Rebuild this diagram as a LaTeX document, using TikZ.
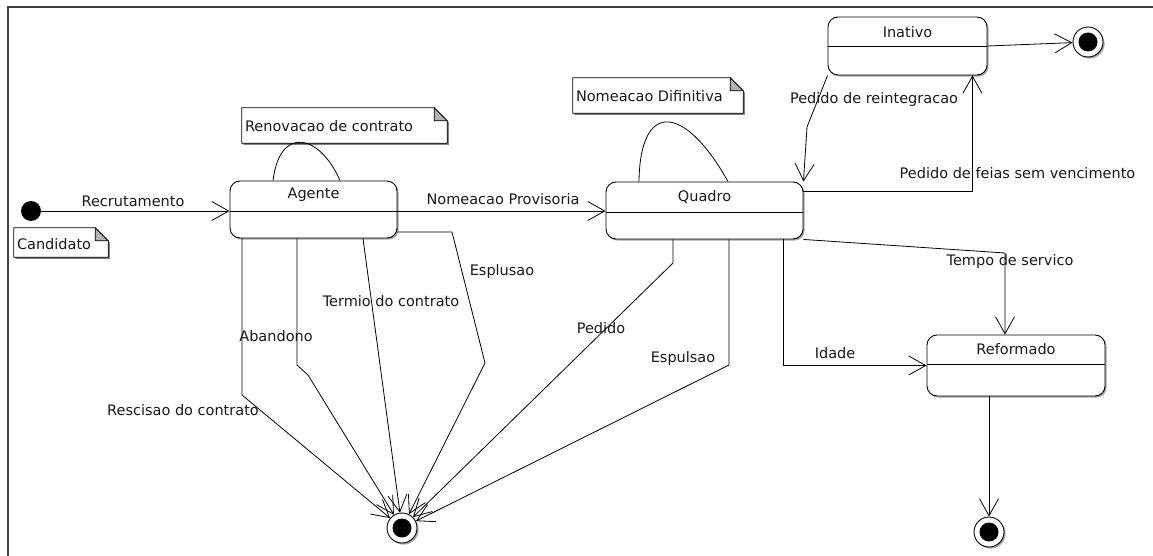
\documentclass[tikz,border=0pt]{standalone}
\usepackage{fontspec}
\setmainfont{DejaVu Sans}
\usetikzlibrary{arrows.meta,shadows,calc}
\begin{document}
\begin{tikzpicture}[x=1pt,y=-1pt,
  every node/.style={font=\fontsize{14.5}{17}\selectfont, text=black!90},
  shd/.style={drop shadow={shadow xshift=1.6pt, shadow yshift=-1.6pt, fill=black!50, opacity=0.7}},
  statebox/.style={draw, rounded corners=10pt, fill=white, inner sep=0pt, line width=0.9pt, shd},
  finalst/.style={circle, draw, fill=white, minimum size=30pt, inner sep=0pt, line width=0.9pt, shd,
    path picture={\fill[black] (path picture bounding box.center) circle (9.5pt);}},
  initst/.style={circle, fill=black, minimum size=20pt, inner sep=0pt},
  notebox/.style={inner sep=0pt},
  tr/.style={line width=0.8pt, -{Straight Barb[length=17pt,width=19pt,line width=0.8pt]}},
  ln/.style={line width=0.8pt},
  lbl/.style={inner sep=0pt}
]
\useasboundingbox (0,0) rectangle (1153,556);
\fill[white] (0,0) rectangle (1153,556);
% frame
\draw[line width=1.4pt, black!75] (8,556) -- (8,7) -- (1153,7);

% notes
\node[notebox, minimum width=94pt, minimum height=29pt] (nCand) at (61,242.5) {};
\node[notebox, minimum width=205pt, minimum height=35pt] (nRen) at (344.5,125.5) {};
\node[notebox, minimum width=170pt, minimum height=35pt] (nNom) at (658,95.5) {};
\foreach \n in {nCand,nRen,nNom}{
  \fill[black!50] ([xshift=1.6pt,yshift=-1.6pt]\n.south west) -- ([xshift=1.6pt,yshift=-1.6pt]\n.north west) -- ([xshift=-11.4pt,yshift=-1.6pt]\n.north east) -- ([xshift=1.6pt,yshift=-14.6pt]\n.north east) -- ([xshift=1.6pt,yshift=-1.6pt]\n.south east) -- cycle;
  \draw[fill=white, line width=0.8pt] (\n.south west) -- (\n.north west) -- ([xshift=-13pt]\n.north east) -- ([yshift=-13pt]\n.north east) -- (\n.south east) -- cycle;
  \draw[fill=black!30, line width=0.8pt] ([xshift=-13pt]\n.north east) -- ([xshift=-13pt,yshift=-13pt]\n.north east) -- ([yshift=-13pt]\n.north east) -- cycle;
}
\node[lbl, anchor=west] (tCand) at ([xshift=3pt,yshift=-2pt]nCand.west) {Candidato};
\node[lbl, anchor=west] (tRen) at ([xshift=3pt,yshift=-1pt]nRen.west) {Renovacao de contrato};
\node[lbl, anchor=west] (tNom) at ([xshift=3pt,yshift=-1pt]nNom.west) {Nomeacao Difinitiva};

% states
\node[statebox, minimum width=167pt, minimum height=57pt] (agente) at (313.5,209.5) {};
\node[statebox, minimum width=197pt, minimum height=57pt] (quadro) at (704.5,210.5) {};
\node[statebox, minimum width=159pt, minimum height=58pt] (inativo) at (907.5,46) {};
\node[statebox, minimum width=178pt, minimum height=61pt] (reformado) at (1016,365.5) {};
\draw[ln] (agente.west |- 0,211) -- (agente.east |- 0,211);
\draw[ln] (quadro.west |- 0,212) -- (quadro.east |- 0,212);
\draw[ln] (inativo.west |- 0,46) -- (inativo.east |- 0,46);
\draw[ln] (reformado.west |- 0,364) -- (reformado.east |- 0,364);
\node[lbl] (tAgente) at (313.5,195) {Agente};
\node[lbl] (tQuadro) at (704.5,197) {Quadro};
\node[lbl] (tInativo) at (907.5,32) {Inativo};
\node[lbl] (tReformado) at (1016,349) {Reformado};

% pseudo states
\node[initst] (init) at (31,211) {};
\node[finalst] (f1) at (1088,42) {};
\node[finalst] (f2) at (402,528) {};
\node[finalst] (f3) at (989,532) {};

% self loops
\draw[ln] ([xshift=-40.5pt]agente.north) .. controls +(7,-56) and +(-20,-46) .. ([xshift=26.5pt]agente.north);
\draw[ln] ([xshift=-65.5pt]quadro.north) .. controls +(1,-82) and +(-43,-77) .. ([xshift=23.5pt]quadro.north);

% transitions
\draw[tr] (init) -- (agente.west |- init);
\node[lbl] (lRec) at (133,201) {Recrutamento};

\draw[tr] (agente.east |- init) -- (quadro.west |- init);
\node[lbl] (lProv) at (503,199) {Nomeacao Provisoria};

\draw[tr] (inativo.east) -- (f1);

\coordinate (w1) at (807,127);
\draw[tr] (inativo.south west) -- (w1) -- (quadro.north east);
\node[lbl] (lReint) at (874,100) {Pedido de reintegracao};

\draw[tr] ([yshift=19.5pt]quadro.east) -| ([xshift=-15pt]inativo.south east);
\node[lbl] (lFerias) at (1017.5,173) {Pedido de feias sem vencimento};

\coordinate (w2) at (1005,253);
\draw[tr] (quadro.south east) -- (w2) -- ([xshift=-11pt]reformado.north);
\node[lbl] (lTempo) at (1010,261) {Tempo de servico};

\draw[tr] ([xshift=78.5pt]quadro.south) |- (reformado.west);
\node[lbl] (lIdade) at (835,353) {Idade};

\draw[tr] ([xshift=-27pt]reformado.south) -- (f3);

% Agente -> final
\coordinate (w3) at (242,395);
\draw[tr] ([xshift=-71.5pt]agente.south) -- (w3) -- (f2);
\node[lbl] (lResc) at (183,410) {Rescisao do contrato};

\coordinate (w4) at (297,365);
\coordinate (w5) at (308,375);
\draw[tr] ([xshift=-16.5pt]agente.south) -- (w4) -- (w5) -- (f2);
\node[lbl] (lAband) at (276,336) {Abandono};

\draw[tr] ([xshift=49.5pt]agente.south) -- (f2);
\node[lbl] (lTermio) at (391,301) {Termio do contrato};

\coordinate (w6) at (452,232);
\coordinate (w7) at (485,363);
\draw[tr] ([yshift=-22.5pt]agente.east) -- (w6) -- (w7) -- (f2);
\node[lbl] (lEspl) at (502,271) {Esplusao};

% Quadro -> final
\coordinate (w8) at (673,263);
\draw[tr] ([xshift=-31.5pt]quadro.south) -- (w8) -- (f2);
\node[lbl] (lPed) at (601,328) {Pedido};

\coordinate (w9) at (729,365);
\draw[tr] ([xshift=24.5pt]quadro.south) -- (w9) -- (f2);
\node[lbl] (lEspu) at (683,358) {Espulsao};
\end{tikzpicture}
\end{document}
